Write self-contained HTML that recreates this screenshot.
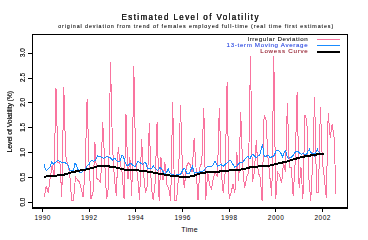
<!DOCTYPE html>
<html><head><meta charset="utf-8">
<style>
html,body{margin:0;padding:0;background:#fff;}
svg{display:block;}
text{font-family:"Liberation Sans",sans-serif;}
</style></head>
<body>
<svg width="368" height="237" viewBox="0 0 368 237">
<defs><filter id="dk" x="0" y="0" width="368" height="237" filterUnits="userSpaceOnUse"><feComponentTransfer><feFuncA type="gamma" amplitude="1" exponent="0.62"/></feComponentTransfer></filter><filter id="dk2" x="-10" y="-15" width="200" height="20" filterUnits="userSpaceOnUse"><feComponentTransfer><feFuncA type="gamma" amplitude="1" exponent="0.5"/></feComponentTransfer></filter><filter id="dk3" x="0" y="0" width="368" height="237" filterUnits="userSpaceOnUse"><feComponentTransfer><feFuncA type="gamma" amplitude="1" exponent="0.8"/></feComponentTransfer></filter></defs>
<rect x="0" y="0" width="368" height="237" fill="#fff"/>
<path d="M44.3,196.8 L46.3,185.9 L48.2,192.8 L50.2,177.9 L52.1,165.4 L54.1,174.9 L56.0,88.2 L58.0,162.4 L59.9,162.4 L61.8,196.8 L63.8,87.2 L65.7,156.0 L67.7,164.9 L69.6,172.4 L71.6,200.3 L73.5,200.3 L75.5,176.9 L77.4,179.9 L79.3,181.9 L81.3,188.8 L83.2,197.3 L85.2,167.4 L87.1,98.7 L89.1,164.9 L91.0,198.8 L93.0,192.3 L94.9,142.0 L96.8,178.4 L98.8,179.9 L100.7,182.4 L102.7,121.6 L104.6,159.9 L106.6,199.3 L108.5,187.4 L110.5,61.8 L112.4,144.5 L114.3,177.4 L116.3,195.8 L118.2,147.5 L120.2,162.4 L122.1,172.4 L124.1,199.3 L126.0,114.1 L128.0,178.9 L129.9,157.5 L131.8,195.8 L133.8,65.8 L135.7,162.4 L137.7,177.4 L139.6,199.8 L141.6,139.5 L143.5,172.4 L145.5,193.3 L147.4,184.9 L149.3,123.1 L151.3,187.4 L153.2,200.3 L155.2,182.4 L157.1,121.6 L159.1,200.8 L161.0,157.5 L163.0,179.9 L164.9,162.4 L166.8,184.9 L168.8,188.3 L170.7,200.8 L172.7,101.6 L174.6,200.3 L176.6,200.3 L178.5,177.4 L180.5,105.1 L182.4,167.4 L184.3,187.8 L186.3,167.4 L188.2,162.4 L190.2,164.9 L192.1,172.4 L194.1,138.0 L196.0,167.4 L198.0,200.3 L199.9,167.4 L201.8,162.4 L203.8,107.6 L205.7,200.3 L207.7,172.4 L209.6,184.9 L211.6,188.8 L213.5,177.4 L215.5,172.4 L217.4,177.4 L219.3,107.6 L221.3,172.4 L223.2,192.8 L225.2,172.4 L227.1,82.2 L229.1,199.3 L231.0,192.8 L233.0,184.4 L234.9,192.8 L236.8,152.5 L238.8,180.9 L240.7,112.1 L242.7,167.4 L244.6,188.3 L246.6,177.4 L248.5,172.4 L250.5,56.3 L252.4,182.4 L254.3,172.4 L256.3,140.5 L258.2,172.4 L260.2,177.4 L262.1,200.8 L264.1,115.1 L266.0,120.1 L268.0,157.5 L269.9,177.4 L271.8,195.8 L273.8,56.3 L275.7,198.8 L277.7,172.4 L279.6,174.9 L281.6,183.4 L283.5,162.4 L285.4,172.4 L287.4,102.6 L289.3,167.4 L291.3,167.4 L293.2,196.3 L295.2,162.4 L297.1,92.2 L299.1,187.8 L301.0,167.4 L302.9,199.3 L304.9,115.1 L306.8,120.1 L308.8,177.4 L310.7,200.8 L312.7,162.4 L314.6,97.2 L316.6,192.3 L318.5,192.3 L320.4,106.6 L322.4,162.4 L324.3,177.4 L326.3,197.8 L328.2,112.6 L330.2,137.5 L332.1,124.1 L334.1,137.5 L336.0,193.8" fill="none" stroke="#f9749f" stroke-width="1" stroke-linejoin="miter" shape-rendering="crispEdges"/>
<path d="M44.2,163.8 L44.6,166.7 L46.3,170.5 L48.4,168.4 L50.5,166.3 L51.8,161.7 L53.5,164.2 L54.7,162.9 L56.8,161.3 L58.1,160.0 L59.8,161.7 L61.9,162.1 L65.3,162.9 L67.8,164.6 L69.1,168.4 L70.0,171.0 L73.4,170.2 L75.1,163.0 L76.3,165.1 L77.6,168.9 L79.3,171.8 L81.0,173.1 L82.6,171.4 L84.3,170.2 L86.4,167.6 L87.3,165.5 L89.4,164.3 L90.2,161.3 L91.9,160.5 L93.6,161.3 L95.3,160.5 L96.5,158.4 L97.8,155.8 L100.0,156.7 L101.7,157.5 L103.4,158.4 L105.1,157.1 L107.6,156.7 L109.3,157.5 L110.5,157.9 L111.8,159.2 L112.6,160.1 L113.9,157.9 L115.2,158.4 L116.8,160.9 L118.5,161.3 L120.2,160.9 L121.5,155.8 L122.7,155.0 L124.0,158.4 L125.3,163.0 L127.0,165.5 L128.2,166.0 L130.0,162.9 L131.7,164.2 L133.4,165.9 L135.1,166.3 L136.7,164.2 L138.0,160.8 L139.3,162.1 L141.0,163.4 L142.6,164.2 L144.7,162.1 L146.0,163.4 L147.3,168.4 L149.4,168.4 L151.9,168.0 L153.2,165.5 L154.4,167.6 L156.1,169.3 L157.8,170.5 L160.0,167.5 L161.3,168.8 L162.5,170.9 L164.2,173.4 L166.3,173.0 L167.6,170.1 L168.4,169.2 L169.3,172.2 L170.5,173.8 L172.6,174.3 L174.7,175.5 L176.8,174.7 L179.0,174.7 L180.6,174.3 L181.9,171.7 L183.6,168.4 L184.9,168.4 L185.7,170.9 L187.0,173.4 L188.6,174.0 L190.1,171.8 L191.7,168.0 L192.6,165.9 L193.4,171.0 L194.7,173.1 L196.8,172.6 L198.9,172.2 L200.2,171.8 L202.7,171.0 L204.4,170.1 L206.1,167.6 L207.7,166.3 L210.0,166.7 L212.5,165.9 L215.1,161.3 L217.6,166.3 L219.3,165.5 L221.0,164.6 L223.5,166.3 L225.6,163.8 L228.5,161.7 L230.2,160.0 L232.7,164.2 L234.9,167.2 L237.0,165.9 L240.0,162.2 L242.1,163.0 L244.2,160.1 L245.9,157.9 L248.0,156.3 L250.0,159.3 L251.5,155.2 L253.0,154.2 L255.1,156.7 L256.6,157.8 L258.1,155.7 L259.6,155.7 L260.6,151.7 L261.7,146.6 L262.7,145.1 L263.2,150.2 L264.2,156.2 L266.2,156.2 L268.2,155.2 L270.3,157.8 L271.8,156.7 L273.3,156.7 L275.1,153.4 L276.3,150.0 L278.4,150.0 L281.0,153.4 L282.6,156.7 L284.3,152.5 L285.6,150.8 L286.8,155.1 L288.1,158.4 L289.4,158.0 L291.1,157.2 L293.2,155.1 L295.3,152.1 L297.0,150.8 L300.0,153.4 L301.7,154.3 L302.9,153.0 L304.2,154.3 L306.7,154.3 L308.0,151.3 L309.3,149.2 L310.5,151.7 L311.4,153.0 L312.6,153.4 L313.9,153.0 L314.7,156.4 L316.0,151.7 L317.3,149.2 L318.5,151.7 L320.2,152.6" fill="none" stroke="#1a8cff" stroke-width="1" shape-rendering="crispEdges"/>
<path d="M44.2,176.8 L50.0,176.0 L57.0,175.5 L64.0,174.7 L72.0,172.3 L77.6,171.0 L84.8,169.7 L91.9,168.1 L97.7,166.4 L104.6,165.8 L111.4,166.8 L116.8,167.6 L125.0,169.7 L133.8,169.9 L141.2,170.8 L149.0,171.8 L156.0,173.1 L165.0,174.7 L175.0,176.4 L188.8,176.8 L194.3,175.6 L200.0,173.5 L209.5,171.8 L216.0,171.8 L225.5,171.0 L234.0,169.9 L240.0,169.8 L247.6,168.1 L251.8,166.8 L260.0,166.4 L265.3,166.0 L270.0,165.5 L278.4,163.5 L286.8,161.5 L295.3,158.8 L302.1,157.0 L307.0,156.0 L313.5,155.1 L320.2,153.8 L324.4,153.6" fill="none" stroke="#000" stroke-width="2" stroke-linecap="butt" shape-rendering="crispEdges"/>
<g stroke="#000" stroke-width="1" shape-rendering="crispEdges">
<line x1="32.5" y1="34" x2="32.5" y2="209"/>
<line x1="32" y1="34.5" x2="348" y2="34.5"/>
<line x1="347.5" y1="34" x2="347.5" y2="209"/>
<line x1="32" y1="208" x2="348" y2="208" stroke-width="2"/>
<line x1="28" y1="202.5" x2="32" y2="202.5"/><line x1="28" y1="177.5" x2="32" y2="177.5"/><line x1="28" y1="152.5" x2="32" y2="152.5"/><line x1="28" y1="127.5" x2="32" y2="127.5"/><line x1="28" y1="102.5" x2="32" y2="102.5"/><line x1="28" y1="78.5" x2="32" y2="78.5"/><line x1="28" y1="53.5" x2="32" y2="53.5"/>
<line x1="42.40" y1="209" x2="42.40" y2="212"/><line x1="89.07" y1="209" x2="89.07" y2="212"/><line x1="135.74" y1="209" x2="135.74" y2="212"/><line x1="182.41" y1="209" x2="182.41" y2="212"/><line x1="229.08" y1="209" x2="229.08" y2="212"/><line x1="275.75" y1="209" x2="275.75" y2="212"/><line x1="322.42" y1="209" x2="322.42" y2="212"/>
<line x1="317" y1="39.5" x2="340" y2="39.5" stroke="#f9749f"/>
<line x1="317" y1="45.5" x2="340" y2="45.5" stroke="#1a8cff"/>
<line x1="317" y1="52" x2="340" y2="52" stroke-width="2"/>
</g>
<g filter="url(#dk3)"><g transform="translate(58.2,28.4) scale(0.88,1)"><text x="0" y="0" font-size="6.1" textLength="312.5" lengthAdjust="spacing" fill="#000">original deviation from trend of females employed full-time (real time first estimates)</text></g></g>
<g transform="translate(121.5,19.8) scale(0.82,1)" filter="url(#dk2)"><text x="0" y="0" font-size="9.8" textLength="167.07" lengthAdjust="spacing" fill="#000">Estimated Level of Volatility</text></g>
<g filter="url(#dk)">
<g font-size="6.5" fill="#000">
<text transform="translate(24.8,202.10) rotate(-90)" text-anchor="middle" font-size="6.3" textLength="8.8" lengthAdjust="spacingAndGlyphs">0.0</text><text transform="translate(24.8,177.18) rotate(-90)" text-anchor="middle" font-size="6.3" textLength="8.8" lengthAdjust="spacingAndGlyphs">0.5</text><text transform="translate(24.8,152.26) rotate(-90)" text-anchor="middle" font-size="6.3" textLength="8.8" lengthAdjust="spacingAndGlyphs">1.0</text><text transform="translate(24.8,127.34) rotate(-90)" text-anchor="middle" font-size="6.3" textLength="8.8" lengthAdjust="spacingAndGlyphs">1.5</text><text transform="translate(24.8,102.42) rotate(-90)" text-anchor="middle" font-size="6.3" textLength="8.8" lengthAdjust="spacingAndGlyphs">2.0</text><text transform="translate(24.8,77.50) rotate(-90)" text-anchor="middle" font-size="6.3" textLength="8.8" lengthAdjust="spacingAndGlyphs">2.5</text><text transform="translate(24.8,52.58) rotate(-90)" text-anchor="middle" font-size="6.3" textLength="8.8" lengthAdjust="spacingAndGlyphs">3.0</text>
<text transform="translate(11.7,152.4) rotate(-90)" font-size="6.9" textLength="61.5" lengthAdjust="spacing">Level of Volatility (%)</text>
</g>

</g>
<g font-size="6.5" fill="#000">
<text x="42.40" y="220" text-anchor="middle" textLength="16" lengthAdjust="spacing">1990</text><text x="89.07" y="220" text-anchor="middle" textLength="16" lengthAdjust="spacing">1992</text><text x="135.74" y="220" text-anchor="middle" textLength="16" lengthAdjust="spacing">1994</text><text x="182.41" y="220" text-anchor="middle" textLength="16" lengthAdjust="spacing">1996</text><text x="229.08" y="220" text-anchor="middle" textLength="16" lengthAdjust="spacing">1998</text><text x="275.75" y="220" text-anchor="middle" textLength="16" lengthAdjust="spacing">2000</text><text x="322.42" y="220" text-anchor="middle" textLength="16" lengthAdjust="spacing">2002</text>
<text x="181.3" y="232" font-size="7" textLength="16.3" lengthAdjust="spacing">Time</text>
</g>
<g font-size="6.2" filter="url(#dk3)">
<text x="247.4" y="40.6" textLength="60.2" lengthAdjust="spacing" fill="#111">Irregular Deviation</text>
<text x="226.6" y="46.6" textLength="81" lengthAdjust="spacing" fill="#2040e0">13-term Moving Average</text>
<text x="260.2" y="53.4" textLength="47.6" lengthAdjust="spacing" fill="#901828">Lowess Curve</text>
</g>
</svg>
</body></html>
